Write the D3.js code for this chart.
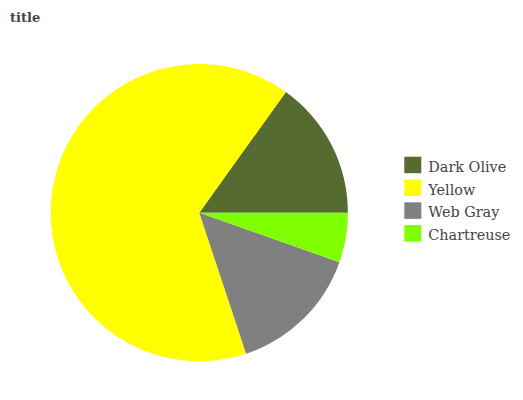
<!DOCTYPE html>
<html>
<head>
<meta charset="utf-8">
<script src="https://cdn.jsdelivr.net/npm/d3@7"></script>
<style>
  html, body { margin: 0; padding: 0; background: #fff; }
  svg { display: block; }
</style>
</head>
<body>
<svg id="chart" width="523" height="400"></svg>
<script>
const categories = ["Dark Olive", "Yellow", "Web Gray", "Chartreuse"];
const values = [15.1, 65.0, 14.5, 5.4];
const colors = ["#556B2F", "#FFFF00", "#808080", "#7FFF00"];
const titleText = "title";

const svg = d3.select("#chart");
const cx = 199.3, cy = 212.7, r = 148.6;

svg.append("text")
  .attr("x", 10).attr("y", 22)
  .attr("font-family", "DejaVu Serif")
  .attr("font-weight", "bold")
  .attr("font-size", 13)
  .attr("fill", "#444")
  .text(titleText);

const data = categories.map((c, i) => ({ name: c, value: values[i], color: colors[i] }));
const pie = d3.pie().value(d => d.value).sort(null)
  .startAngle(Math.PI / 2).endAngle(Math.PI / 2 - 2 * Math.PI);
const arc = d3.arc().innerRadius(0).outerRadius(r);

svg.append("g").attr("transform", `translate(${cx},${cy})`)
  .selectAll("path").data(pie(data)).join("path")
  .attr("d", arc)
  .attr("fill", d => d.data.color);

const legend = svg.append("g").attr("transform", "translate(404.3,156.7)");
const row = legend.selectAll("g").data(data).join("g")
  .attr("transform", (d, i) => `translate(0,${i * 22.8})`);
row.append("rect").attr("width", 17).attr("height", 16.5).attr("fill", d => d.color);
row.append("text").attr("x", 24).attr("y", 15)
  .attr("font-family", "DejaVu Serif").attr("font-size", 14.4).attr("fill", "#444")
  .text(d => d.name);
</script>
</body>
</html>
